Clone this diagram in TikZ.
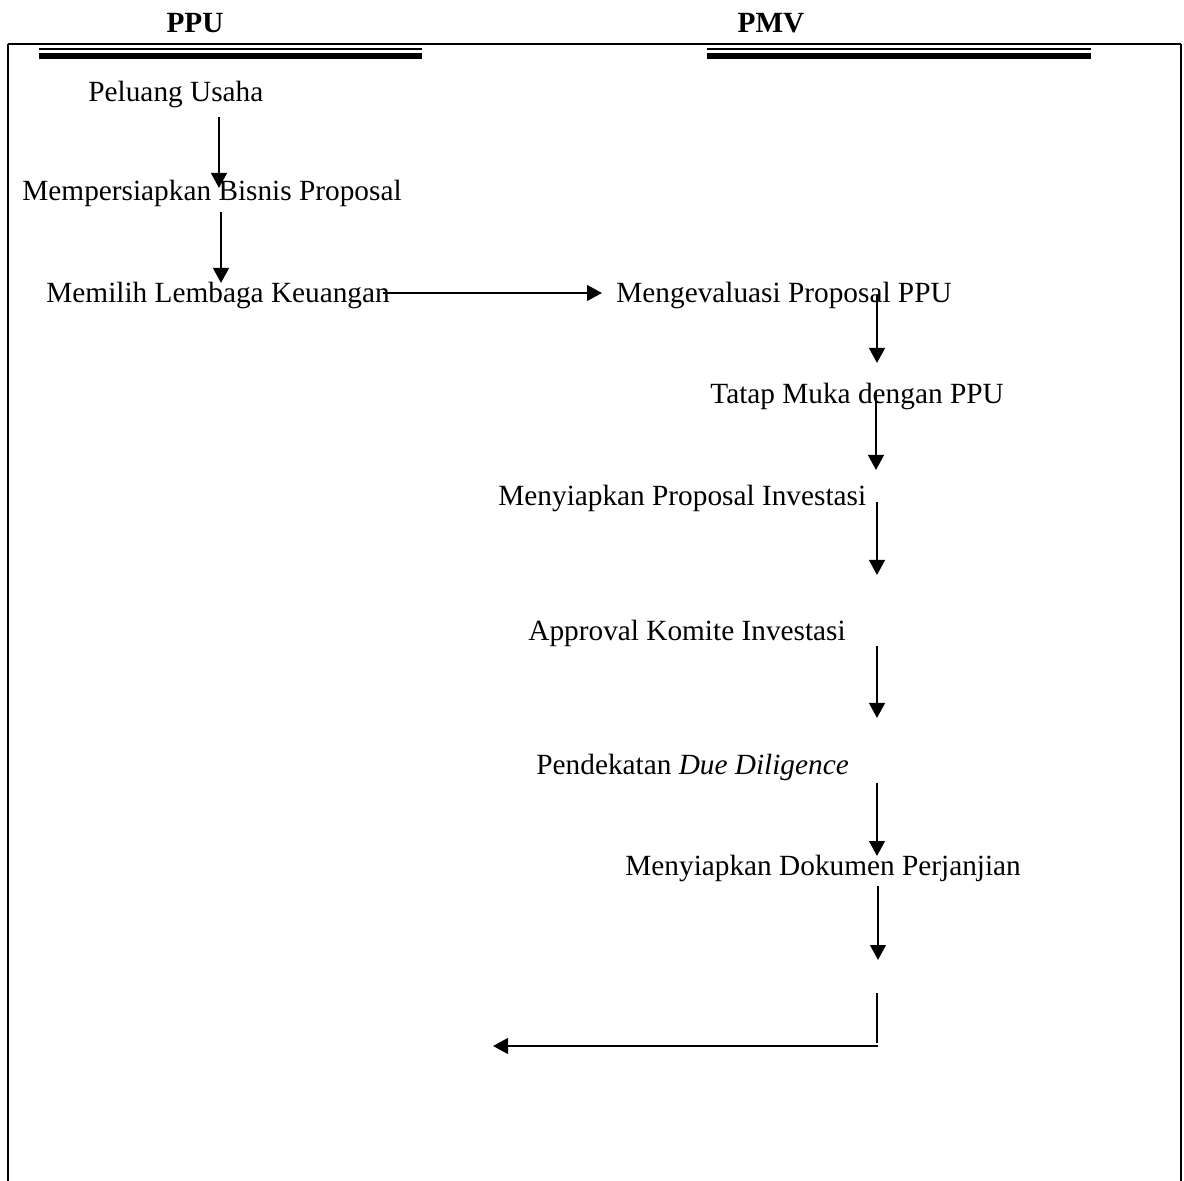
\documentclass[tikz,border=0pt]{standalone}
\usepackage{fontspec}
\setmainfont{Liberation Serif}
\usepackage{tikz}
\usetikzlibrary{arrows.meta}
\tikzstyle{txt} = [anchor=base west, inner sep=0pt, font=\fontsize{14.65}{17}\selectfont]
\tikzstyle{head} = [anchor=base, inner sep=0pt, font=\fontsize{14.65}{17}\selectfont\bfseries]
\tikzstyle{arrow} = [-{Triangle[length=7.5pt, width=7.8pt]}, line width=1.25pt]

\begin{document}
\begin{tikzpicture}[x=0.5pt, y=-0.5pt]
    \useasboundingbox (0,0) rectangle (1184,1181);

    % Frame
    \draw[line width=0.7pt] (8,44) -- (1181,44);
    \draw[line width=1.25pt] (8,1181) -- (8,43.7);
    \draw[line width=1.2pt] (1181,43.7) -- (1181,1181);

    % Column headings
    \node[head] (ppu) at (195,33) {PPU};
    \node[head] (pmv) at (771,33) {PMV};
    \foreach \xa/\xb in {39/422, 707/1091} {
        \draw[line width=0.75pt] (\xa,49) -- (\xb,49);
        \draw[line width=3.2pt] (\xa,55.8) -- (\xb,55.8);
    }

    % PPU steps
    \node[txt] (peluang) at (88,102) {Peluang Usaha};
    \node[txt] (bisnis) at (22,201) {Mempersiapkan Bisnis Proposal};
    \node[txt] (memilih) at (46,303) {Memilih Lembaga Keuangan};

    % PMV steps
    \node[txt] (evaluasi) at (616,303) {Mengevaluasi Proposal PPU};
    \node[txt] (tatap) at (710,404) {Tatap Muka dengan PPU};
    \node[txt] (investasi) at (498,506) {Menyiapkan Proposal Investasi};
    \node[txt] (approval) at (528,641) {Approval Komite Investasi};
    \node[txt] (diligence) at (536,775) {Pendekatan \textit{Due Diligence}};
    \node[txt] (dokumen) at (625,875) {Menyiapkan Dokumen Perjanjian};

    % Vertical arrows
    \foreach \n/\x/\ya/\yb in {1/219/117/188, 2/221/212/283, 3/877/295/363, 4/876/392/470,
                               5/877/502/575, 6/877/646/718, 7/877/783/856, 8/878/886/960} {
        \coordinate (s\n) at (\x,\ya);
        \coordinate (e\n) at (\x,\yb);
        \draw[arrow] (s\n) -- (e\n);
    }

    % To PMV
    \coordinate (h1) at (383,293);
    \coordinate (h2) at (602,293);
    \draw[arrow] (h1) -- (h2);

    % Back to PPU
    \coordinate (c1) at (877,993);
    \coordinate (c2) at (877,1043);
    \coordinate (c3) at (878,1046);
    \coordinate (c4) at (493,1046);
    \draw[line width=0.9pt] (c1) -- (c2);
    \draw[arrow] (c3) -- (c4);
\end{tikzpicture}
\end{document}
